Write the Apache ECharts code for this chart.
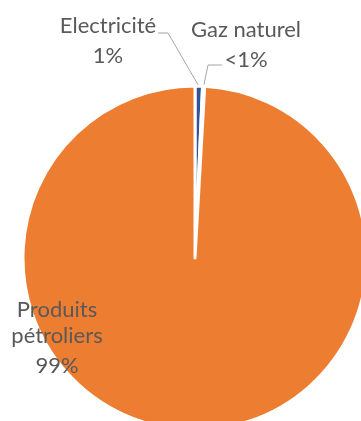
<!DOCTYPE html>
<html>
<head>
<meta charset="utf-8">
<script src="https://cdn.jsdelivr.net/npm/echarts@6/dist/echarts.min.js"></script>
<style>
  html, body { margin: 0; padding: 0; background: #fff; }
  #chart { width: 361px; height: 421px; }
</style>
</head>
<body>
<div id="chart"></div>
<script>
// Final energy consumption by source (%)
const categories = ['Electricité', 'Gaz naturel', 'Produits pétroliers'];
const shares = [0.7, 0.2, 99.1];
const sliceColors = ['#2F5597', '#A5A5A5', '#ED7D31'];

// Label block placement (centre x, top y) and leader-line bends relative to it
const labelSpots = [
  { x: 108, y: 13, elbow: [60, 20], end: [50, 20] },
  { x: 246, y: 17, elbow: [-38, 48], end: [-24, 48] },
  { x: 57, y: 297 }
];

function pctText(p) {
  const r = Math.round(p);
  return r < 1 ? '<1%' : r + '%';
}

const textBase = { fontFamily: 'Lato', fontSize: 22, color: '#595959' };

const chart = echarts.init(document.getElementById('chart'), null, { renderer: 'canvas' });
chart.setOption({
  animation: false,
  series: [{
    type: 'pie',
    center: [195, 258],
    radius: 172,
    startAngle: 90,
    clockwise: true,
    avoidLabelOverlap: false,
    itemStyle: { borderColor: '#ffffff', borderWidth: 3 },
    data: categories.map((name, i) => ({
      name: name,
      value: shares[i],
      itemStyle: { color: sliceColors[i] },
      labelLine: { show: !!labelSpots[i].elbow }
    })),
    label: {
      show: true,
      position: 'outside',
      align: 'center',
      formatter: function (p) {
        const nameLines = p.name.length > 12
          ? p.name.split(' ').map(w => '{n|' + w + '}').join('\n')
          : '{n|' + p.name + '}';
        return nameLines + '\n{v|' + pctText(p.percent) + '}';
      },
      rich: {
        n: Object.assign({ lineHeight: 26, align: 'center' }, textBase),
        v: Object.assign({ lineHeight: 34, align: 'center' }, textBase)
      }
    },
    labelLine: {
      show: true,
      length: 10,
      length2: 10,
      lineStyle: { color: '#A6A6A6', width: 1 }
    },
    labelLayout: function (params) {
      const s = labelSpots[params.dataIndex];
      const out = { x: s.x, y: s.y, align: 'center', verticalAlign: 'top' };
      if (s.elbow && params.labelLinePoints) {
        const p0 = params.labelLinePoints[0];
        out.labelLinePoints = [
          [p0[0], p0[1]],
          [s.x + s.elbow[0], s.y + s.elbow[1]],
          [s.x + s.end[0], s.y + s.end[1]]
        ];
      }
      return out;
    }
  }]
});
</script>
</body>
</html>
